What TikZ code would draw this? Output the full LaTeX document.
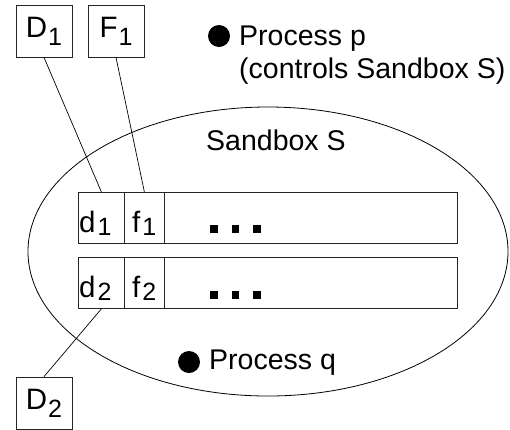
\documentclass[tikz,border=0pt]{standalone}
\usepackage{fontspec}
\setmainfont{Liberation Sans}
\newcommand{\lbl}{\fontsize{28.5}{33}\selectfont}
\newcommand{\blbl}{\fontsize{29.5}{33}\selectfont}
\newcommand{\subsz}{\fontsize{25}{25}\selectfont}
\newcommand{\bsub}[1]{\kern1pt\raisebox{-8pt}{\subsz #1}}
\newcommand{\csub}[1]{\kern2pt\raisebox{-3pt}{\subsz #1}}
\begin{document}
\begin{tikzpicture}[x=1pt,y=-1pt,
  outer/.style={draw=black!85,line width=0.8pt,minimum width=56pt,minimum height=52pt,inner sep=0pt,font=\blbl},
  cellbox/.style={draw=black!85,line width=0.8pt,minimum height=51pt,inner sep=0pt,anchor=north west},
  link/.style={draw=black,line width=0.7pt},
  txt/.style={anchor=base west,inner sep=0pt,font=\lbl},
  ctxt/.style={anchor=base west,inner sep=0pt,font=\blbl},
  dotsq/.style={fill=black}]
\useasboundingbox (0,0) rectangle (510,429);
% sandbox ellipse
\draw[line width=0.8pt] (268,251.5) ellipse [x radius=240pt, y radius=144.5pt];
% outer boxes
\node[outer] (D1) at (44,31) {D\bsub{1}};
\node[outer] (F1) at (116,31) {F\bsub{1}};
\node[outer] (D2) at (44,403) {D\bsub{2}};
% row 1
\node[cellbox,minimum width=46pt] (d1) at (78,192) {};
\node[cellbox,minimum width=40pt] (f1) at (124,192) {};
\node[cellbox,minimum width=293pt] (r1) at (164,192) {};
% row 2
\node[cellbox,minimum width=46pt] (d2) at (78,257) {};
\node[cellbox,minimum width=40pt] (f2) at (124,257) {};
\node[cellbox,minimum width=293pt] (r2) at (164,257) {};
% cell labels
\node[ctxt] (d1t) at (79,232) {d\csub{1}};
\node[ctxt] (f1t) at (132,232) {f\csub{1}};
\node[ctxt] (d2t) at (79,297) {d\csub{2}};
\node[ctxt] (f2t) at (132,297) {f\csub{2}};
% ellipsis squares
\foreach \x in {210,231.5,253}{
  \fill[dotsq] (\x,225) rectangle ++(7.5,8);
  \fill[dotsq] (\x,291) rectangle ++(7.5,7.5);
}
% connectors
\draw[link] (D1.south) -- (d1.north);
\draw[link] (F1.south) -- (f1.north);
\draw[link] (d2.south) -- (D2.north);
% processes
\fill (219,36) circle (11pt);
\node[txt] (pp) at (239,45) {Process p};
\node[txt] (pc) at (239,78) {(controls Sandbox S)};
\node[txt] (sb) at (206,150) {Sandbox S};
\fill (189,362) circle (11pt);
\node[txt] (pq) at (209,369) {Process q};
\end{tikzpicture}
\end{document}
